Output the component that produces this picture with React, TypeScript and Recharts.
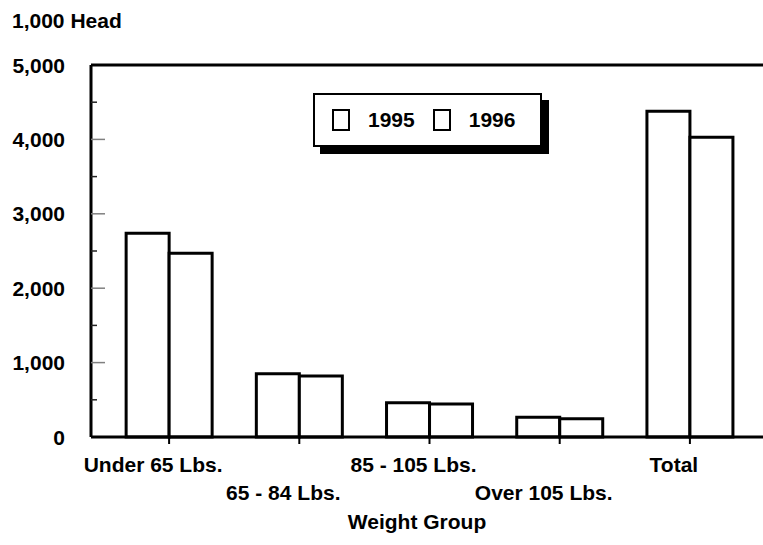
import React from 'react';
import { BarChart, Bar, XAxis, YAxis, ReferenceLine, Legend, Label } from 'recharts';

const categories = ['Under 65 Lbs.', '65 - 84 Lbs.', '85 - 105 Lbs.', 'Over 105 Lbs.', 'Total'];
const series1995 = [2740, 850, 460, 265, 4380];
const series1996 = [2470, 820, 445, 245, 4030];
const seriesNames = ['1995', '1996'];
const yTickValues = [0, 500, 1000, 1500, 2000, 2500, 3000, 3500, 4000, 4500, 5000];
const yUnitLabel = '1,000 Head';
const xAxisTitle = 'Weight Group';

const data = categories.map((c, i) => ({ category: c, v1995: series1995[i], v1996: series1996[i] }));

const FONT = '"Liberation Sans", Arial, Helvetica, sans-serif';
const FS = 21;

function fmt(v: number) {
  return String(v).replace(/\B(?=(\d{3})+(?!\d))/g, ',');
}

function YTick(props: any) {
  const { x, y, payload } = props;
  const v = payload.value as number;
  const major = v % 1000 === 0;
  const axisX = x + 26;
  return (
    <g>
      {major && v !== 0 && v !== 5000 ? (
        <line x1={axisX} x2={axisX + 14} y1={y} y2={y} stroke="#808080" strokeWidth={1.5} />
      ) : null}
      {!major ? <line x1={axisX} x2={axisX + 6} y1={y} y2={y} stroke="#222" strokeWidth={1.5} /> : null}
      {major ? (
        <text x={x} y={y} dy="0.36em" textAnchor="end" fontFamily={FONT} fontSize={FS} fontWeight="bold" fill="#000">
          {fmt(v)}
        </text>
      ) : null}
    </g>
  );
}

function XTick(props: any) {
  const { x, y, payload, index } = props;
  const row = index % 2;
  return (
    <text
      x={x - 16}
      y={y}
      dy={row === 0 ? 28 : 56}
      textAnchor="middle"
      fontFamily={FONT}
      fontSize={FS}
      fontWeight="bold"
      fill="#000"
    >
      {payload.value}
    </text>
  );
}

function LegendBox(props: any) {
  const payload = (props.payload || []) as any[];
  return (
    <div
      style={{
        boxSizing: 'border-box',
        width: 229,
        height: 54,
        border: '2px solid #000',
        boxShadow: '7px 7px 0 #000',
        background: '#fff',
        display: 'flex',
        alignItems: 'center',
        paddingLeft: 17,
        fontFamily: FONT,
        fontSize: FS,
        fontWeight: 'bold',
        color: '#000',
      }}
    >
      {payload.map((p, i) => (
        <div key={i} style={{ display: 'flex', alignItems: 'center', marginRight: i === 0 ? 18 : 0 }}>
          <div style={{ boxSizing: 'border-box', width: 18, height: 22, border: '2.5px solid #000', background: '#fff', marginRight: 18 }} />
          <span>{p.value}</span>
        </div>
      ))}
    </div>
  );
}

export default function App() {
  return (
    <div style={{ position: 'absolute', left: 0, top: 0, width: 763, height: 545, background: '#fff', overflow: 'hidden' }}>
      <div
        style={{
          position: 'absolute',
          left: 12,
          top: 9,
          fontFamily: FONT,
          fontSize: FS,
          fontWeight: 'bold',
          color: '#000',
          lineHeight: '24px',
          whiteSpace: 'nowrap',
        }}
      >
        {yUnitLabel}
      </div>
      <BarChart
        width={763}
        height={545}
        data={data}
        margin={{ top: 65, right: 0, left: 0, bottom: 0 }}
        barCategoryGap="17%"
        barGap={0}
      >
        <YAxis
          type="number"
          domain={[0, 5000]}
          ticks={yTickValues}
          interval={0}
          width={91}
          tickSize={0}
          tickMargin={26}
          tickLine={false}
          axisLine={{ stroke: '#000', strokeWidth: 3 }}
          tick={<YTick />}
        />
        <XAxis
          dataKey="category"
          height={108}
          interval={0}
          padding={{ left: 13, right: 8 }}
          tickSize={7}
          tickMargin={0}
          tickLine={{ stroke: '#000', strokeWidth: 2 }}
          axisLine={{ stroke: '#000', strokeWidth: 3 }}
          tick={<XTick />}
        >
          <Label
            content={(p: any) => {
              const vb = p.viewBox || {};
              return (
                <text
                  x={vb.x + vb.width / 2 - 10}
                  y={vb.y + 92}
                  textAnchor="middle"
                  fontFamily={FONT}
                  fontSize={FS}
                  fontWeight="bold"
                  fill="#000"
                >
                  {xAxisTitle}
                </text>
              );
            }}
          />
        </XAxis>
        <ReferenceLine y={5000} stroke="#000" strokeWidth={3} ifOverflow="extendDomain" />
        <Legend
          verticalAlign="middle"
          align="center"
          layout="horizontal"
          wrapperStyle={{ left: 313, top: 93, width: 229, height: 54 }}
          content={<LegendBox />}
        />
        <Bar dataKey="v1995" name={seriesNames[0]} fill="#fff" stroke="#000" strokeWidth={3} isAnimationActive={false} />
        <Bar dataKey="v1996" name={seriesNames[1]} fill="#fff" stroke="#000" strokeWidth={3} isAnimationActive={false} />
      </BarChart>
    </div>
  );
}
